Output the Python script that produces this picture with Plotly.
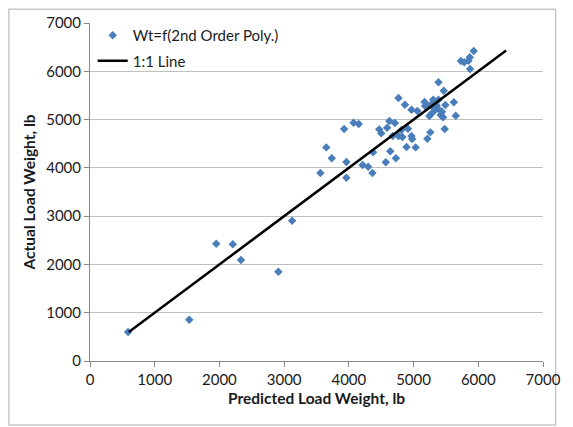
import plotly.graph_objects as go

predicted = [588, 1534, 1951, 2207, 2333, 2911, 3123, 3560, 3651, 3736, 3927, 3962, 3962,
             4073, 4153, 4213, 4299, 4364, 4375, 4469, 4500, 4571, 4591, 4626, 4640, 4676,
             4711, 4727, 4767, 4767, 4812, 4827, 4867, 4891, 4913, 4968, 4968, 4978, 5032,
             5059, 5170, 5178, 5204, 5213, 5245, 5259, 5280, 5280, 5304, 5305, 5330, 5355,
             5380, 5385, 5385, 5420, 5440, 5455, 5466, 5481, 5491, 5622, 5652, 5732, 5783,
             5848, 5868, 5873, 5929]
actual = [600, 855, 2430, 2416, 2092, 1850, 2906, 3893, 4424, 4197, 4804, 4121, 3796,
          4935, 4907, 4059, 4024, 3893, 4321, 4797, 4715, 4114, 4831, 4969, 4342, 4659,
          4928, 4197, 5446, 4659, 4783, 4638, 5308, 4431, 4811, 5204, 4659, 4597, 4424,
          5177, 5363, 5281, 5301, 4604, 5073, 4735, 5322, 5128, 5411, 5253, 5198, 5294,
          5225, 5411, 5771, 5094, 5163, 5046, 5598, 4804, 5301, 5357, 5080, 6212, 6185,
          6219, 6289, 6047, 6420]
line_x = [600, 6430]
line_y = [600, 6430]
ticks = [0, 1000, 2000, 3000, 4000, 5000, 6000, 7000]

FONT = "Lato"

fig = go.Figure()
fig.add_trace(go.Scatter(
    x=predicted, y=actual, mode="markers", name="Wt=f(2nd Order Poly.)",
    legendgroup="a",
    marker=dict(symbol="diamond", size=6.5, color="#4a7ebb"),
))
fig.add_trace(go.Scatter(
    x=line_x, y=line_y, mode="lines", name="1:1 Line",
    legendgroup="b",
    line=dict(color="black", width=2.5),
))

fig.update_layout(
    width=573, height=427,
    margin=dict(l=90, r=19, t=23, b=66),
    paper_bgcolor="white", plot_bgcolor="white",
    font=dict(family=FONT, size=15, color="#1a1a1a"),
    showlegend=True,
    legend=dict(x=0.006, y=1.012, xanchor="left", yanchor="top",
                bgcolor="rgba(0,0,0,0)", font=dict(family=FONT, size=15),
                tracegroupgap=3, itemwidth=30),
    xaxis=dict(range=[0, 7000], tickvals=ticks, showgrid=False, zeroline=False,
               showline=True, linecolor="#888888", linewidth=1,
               ticks="outside", ticklen=5, tickcolor="#888888",
               tickfont=dict(family=FONT, size=15),
               title=dict(text="<b>Predicted Load Weight, lb</b>", font=dict(family=FONT, size=15.5), standoff=6)),
    yaxis=dict(range=[0, 7000], tickvals=ticks, showgrid=True, gridcolor="#bfbfbf", gridwidth=1,
               zeroline=False, showline=True, linecolor="#888888", linewidth=1,
               ticks="outside", ticklen=5, tickcolor="#888888",
               tickfont=dict(family=FONT, size=15),
               title=dict(text="<b>Actual Load Weight, lb</b>", font=dict(family=FONT, size=15.5), standoff=6)),
    shapes=[dict(type="rect", xref="paper", yref="paper",
                 x0=-0.179, x1=1.028, y0=-0.189, y1=1.041,
                 line=dict(color="#c8c8c8", width=1.5), layer="below")],
)

fig.write_html("out.html")
